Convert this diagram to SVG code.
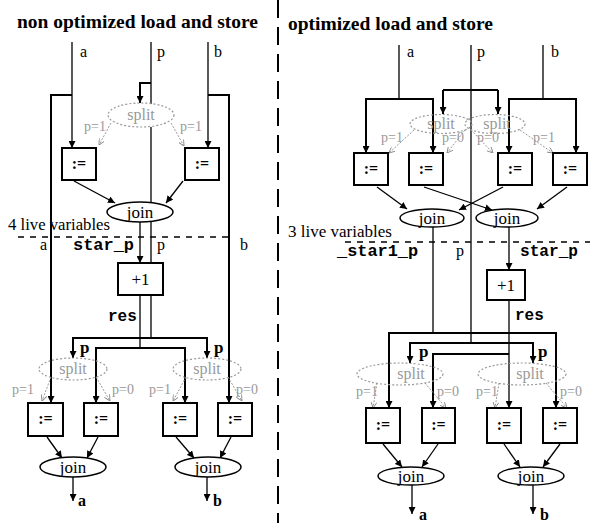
<svg xmlns="http://www.w3.org/2000/svg" width="591" height="523" viewBox="0 0 591 523">
<defs>
<marker id="ar" viewBox="0 0 10 10" refX="10" refY="5" markerWidth="7" markerHeight="7" markerUnits="userSpaceOnUse" orient="auto"><path d="M0,0 L10,5 L0,10 z" fill="#000"/></marker>
<marker id="ga" viewBox="0 0 10 10" refX="10" refY="5" markerWidth="6" markerHeight="6" markerUnits="userSpaceOnUse" orient="auto"><path d="M0,0 L10,5 L0,10" fill="none" stroke="#888" stroke-width="1.5"/></marker>
</defs>
<style>
.ln{fill:none;stroke:#000;stroke-width:1.3}
.bus{fill:none;stroke:#000;stroke-width:2}
.gl{fill:none;stroke:#999;stroke-width:1;stroke-dasharray:2 1.5}
.box{fill:#fff;stroke:#000;stroke-width:2}
.join{fill:#fff;stroke:#000;stroke-width:1.5}
.split{fill:none;stroke:#999;stroke-width:1.2;stroke-dasharray:2 2}
.div{fill:none;stroke:#000;stroke-width:2;stroke-dasharray:18 9}
.dash{fill:none;stroke:#000;stroke-width:1.5;stroke-dasharray:6 6}
text{font-family:"Liberation Serif","Times New Roman",serif;fill:#000}
.title{font-size:19.5px;font-weight:bold}
.lbl{font-size:16px}
.mono{font-family:"Liberation Mono","Courier New",monospace;font-size:16px;font-weight:bold}
.op{font-size:16px;font-weight:bold;text-anchor:middle}
.jt{font-size:17px;text-anchor:middle}
.st{font-size:16px;fill:#999;text-anchor:middle}
.pl{font-size:14px;fill:#999}
.bp{font-size:17px;font-weight:bold}
.out{font-size:16px;font-weight:bold}
</style>

<g id="titles">
<text class="title" x="17" y="28" textLength="241" lengthAdjust="spacingAndGlyphs">non optimized load and store</text>
<text class="title" x="288" y="30" textLength="205" lengthAdjust="spacingAndGlyphs">optimized load and store</text>
<line class="div" x1="278" y1="0" x2="278" y2="523"/>
</g>

<g id="connectors">
<!-- left panel -->
<path class="ln" d="M72,42 V148" marker-end="url(#ar)"/>
<path class="bus" d="M72,95 H51 V403" marker-end="url(#ar)"/>
<path class="ln" d="M208,42 V148" marker-end="url(#ar)"/>
<path class="bus" d="M208,95 H229 V403" marker-end="url(#ar)"/>
<path class="ln" d="M151,42 V104"/>
<path class="bus" d="M151,83 H140 V103" marker-end="url(#ar)"/>
<path class="ln" d="M151,127 V263"/>
<path class="ln" d="M74,181 L115,203" marker-end="url(#ar)"/>
<path class="ln" d="M183,181 L166,203" marker-end="url(#ar)"/>
<path class="ln" d="M140,222 V263" marker-end="url(#ar)"/>
<path class="ln" d="M140,295 V348"/>
<path class="bus" d="M140,348 H96 V403" marker-end="url(#ar)"/>
<path class="bus" d="M140,348 H185 V403" marker-end="url(#ar)"/>
<path class="ln" d="M151,295 V338"/>
<path class="bus" d="M151,338 H73 V358" marker-end="url(#ar)"/>
<path class="bus" d="M151,338 H207 V358" marker-end="url(#ar)"/>
<path class="ln" d="M47,437 L62,458" marker-end="url(#ar)"/>
<path class="ln" d="M98,437 L87,458" marker-end="url(#ar)"/>
<path class="ln" d="M176,437 L194,458" marker-end="url(#ar)"/>
<path class="ln" d="M231,437 L220,458" marker-end="url(#ar)"/>
<path class="ln" d="M73,477 V501" marker-end="url(#ar)"/>
<path class="ln" d="M207,477 V501" marker-end="url(#ar)"/>
<line class="dash" x1="18" y1="237" x2="232" y2="237"/>
<!-- left gray split edges -->
<path class="gl" d="M111,123 L99,145" marker-end="url(#ga)"/>
<path class="gl" d="M171,123 L184,146" marker-end="url(#ga)"/>
<path class="gl" d="M51,377 L42,401" marker-end="url(#ga)"/>
<path class="gl" d="M96,377 L110,401" marker-end="url(#ga)"/>
<path class="gl" d="M186,377 L173,401" marker-end="url(#ga)"/>
<path class="gl" d="M228,377 L242,401" marker-end="url(#ga)"/>

<!-- right panel -->
<path class="ln" d="M399,45 V99"/>
<path class="bus" d="M399,99 H366 V153" marker-end="url(#ar)"/>
<path class="bus" d="M399,99 H433 V153" marker-end="url(#ar)"/>
<path class="ln" d="M543,45 V99" stroke="#777"/>
<path class="bus" d="M543,99 H509 V153" marker-end="url(#ar)"/>
<path class="bus" d="M543,99 H576 V153" marker-end="url(#ar)"/>
<path class="ln" d="M471,45 V343"/>
<path class="bus" d="M443,90 H498"/>
<path class="bus" d="M443,90 V114" marker-end="url(#ar)"/>
<path class="bus" d="M498,90 V114" marker-end="url(#ar)"/>
<path class="ln" d="M377,187 L407,209" marker-end="url(#ar)"/>
<path class="ln" d="M424,187 L492,210" marker-end="url(#ar)"/>
<path class="ln" d="M503,187 L459,210" marker-end="url(#ar)"/>
<path class="ln" d="M567,187 L537,209" marker-end="url(#ar)"/>
<path class="ln" d="M433,227 V333"/>
<path class="ln" d="M509,227 V270" marker-end="url(#ar)"/>
<path class="bus" d="M433,333 H389 V408" marker-end="url(#ar)"/>
<path class="bus" d="M433,333 H556 V408" marker-end="url(#ar)"/>
<path class="bus" d="M471,343 H410 V363" marker-end="url(#ar)"/>
<path class="bus" d="M471,343 H533 V363" marker-end="url(#ar)"/>
<path class="ln" d="M509,300 V408" marker-end="url(#ar)"/>
<path class="bus" d="M509,354 H433 V408" marker-end="url(#ar)"/>
<path class="ln" d="M383,444 L402,467" marker-end="url(#ar)"/>
<path class="ln" d="M438,444 L422,467" marker-end="url(#ar)"/>
<path class="ln" d="M504,444 L520,467" marker-end="url(#ar)"/>
<path class="ln" d="M560,444 L543,467" marker-end="url(#ar)"/>
<path class="ln" d="M412,485 V514" marker-end="url(#ar)"/>
<path class="ln" d="M533,485 V514" marker-end="url(#ar)"/>
<line class="dash" x1="345" y1="242" x2="590" y2="242"/>
<!-- right gray split edges -->
<path class="gl" d="M414,130 L389,153" marker-end="url(#ga)"/>
<path class="gl" d="M465,130 L447,153" marker-end="url(#ga)"/>
<path class="gl" d="M471,130 L493,153" marker-end="url(#ga)"/>
<path class="gl" d="M520,130 L553,153" marker-end="url(#ga)"/>
<path class="gl" d="M377,383 L373,408" marker-end="url(#ga)"/>
<path class="gl" d="M425,383 L446,408" marker-end="url(#ga)"/>
<path class="gl" d="M499,383 L495,408" marker-end="url(#ga)"/>
<path class="gl" d="M546,383 L567,408" marker-end="url(#ga)"/>
</g>

<g id="labels">
<text class="lbl" x="80" y="57">a</text>
<text class="lbl" x="157" y="57">p</text>
<text class="lbl" x="214" y="57">b</text>
<text class="lbl" x="8" y="230" style="font-size:16.5px" textLength="102" lengthAdjust="spacingAndGlyphs">4 live variables</text>
<text class="lbl" x="40" y="250">a</text>
<text class="mono" x="73" y="250" textLength="61" lengthAdjust="spacingAndGlyphs">star_p</text>
<text class="lbl" x="157" y="250">p</text>
<text class="lbl" x="240" y="250">b</text>
<text class="mono" x="108" y="321">res</text>
<text class="bp" x="80" y="353">p</text>
<text class="bp" x="214" y="353">p</text>
<text class="pl" x="84" y="131">p=1</text>
<text class="pl" x="180" y="131">p=1</text>
<text class="pl" x="12" y="394">p=1</text>
<text class="pl" x="112" y="394">p=0</text>
<text class="pl" x="149" y="394">p=1</text>
<text class="pl" x="236" y="394">p=0</text>
<text class="out" x="78" y="506">a</text>
<text class="out" x="213" y="506">b</text>

<text class="lbl" x="407" y="57">a</text>
<text class="lbl" x="477" y="57">p</text>
<text class="lbl" x="551" y="57">b</text>
<text class="lbl" x="288" y="237" style="font-size:16.5px" textLength="104" lengthAdjust="spacingAndGlyphs">3 live variables</text>
<text class="mono" x="337" y="256" textLength="81" lengthAdjust="spacingAndGlyphs">_star1_p</text>
<text class="lbl" x="456" y="256">p</text>
<text class="mono" x="520" y="256" textLength="58" lengthAdjust="spacingAndGlyphs">star_p</text>
<text class="mono" x="515" y="320">res</text>
<text class="bp" x="419" y="357">p</text>
<text class="bp" x="538" y="357">p</text>
<text class="pl" x="381" y="142">p=1</text>
<text class="pl" x="442" y="142">p=0</text>
<text class="pl" x="477" y="142">p=0</text>
<text class="pl" x="533" y="142">p=1</text>
<text class="pl" x="356" y="396">p=1</text>
<text class="pl" x="437" y="396">p=0</text>
<text class="pl" x="476" y="396">p=1</text>
<text class="pl" x="560" y="396">p=0</text>
<text class="out" x="419" y="520">a</text>
<text class="out" x="540" y="520">b</text>
</g>

<!-- left nodes -->
<g id="L_split"><ellipse class="split" cx="141" cy="115" rx="33" ry="12"/><text class="st" x="141" y="120">split</text></g>
<g id="L_st1"><rect class="box" x="62" y="148" width="34" height="32"/><text class="op" x="79" y="169">:=</text></g>
<g id="L_st2"><rect class="box" x="185" y="148" width="34" height="32"/><text class="op" x="202" y="169">:=</text></g>
<g id="L_join"><ellipse class="join" cx="140" cy="212" rx="33" ry="10"/><text class="jt" x="140" y="218">join</text></g>
<g id="L_inc"><rect class="box" x="118" y="263" width="45" height="32"/><text class="jt" x="140.5" y="285">+1</text></g>
<g id="L_split1"><ellipse class="split" cx="73" cy="369" rx="34" ry="11"/><text class="st" x="73" y="374">split</text></g>
<g id="L_split2"><ellipse class="split" cx="207" cy="369" rx="34" ry="11"/><text class="st" x="207" y="374">split</text></g>
<g id="L_st3"><rect class="box" x="28" y="403" width="35" height="33"/><text class="op" x="45.5" y="424">:=</text></g>
<g id="L_st4"><rect class="box" x="84" y="403" width="34" height="33"/><text class="op" x="101" y="424">:=</text></g>
<g id="L_st5"><rect class="box" x="163" y="403" width="34" height="33"/><text class="op" x="180" y="424">:=</text></g>
<g id="L_st6"><rect class="box" x="218" y="403" width="34" height="33"/><text class="op" x="235" y="424">:=</text></g>
<g id="L_join1"><ellipse class="join" cx="73" cy="467" rx="33" ry="10"/><text class="jt" x="73" y="473">join</text></g>
<g id="L_join2"><ellipse class="join" cx="208" cy="467" rx="33" ry="10"/><text class="jt" x="208" y="473">join</text></g>

<!-- right nodes -->
<g id="R_split1"><ellipse class="split" cx="441" cy="124" rx="31" ry="9.5"/><text class="st" x="441" y="129">split</text></g>
<g id="R_split2"><ellipse class="split" cx="495" cy="124" rx="30" ry="9.5"/><text class="st" x="497" y="129">split</text></g>
<g id="R_st1"><rect class="box" x="354" y="153" width="34" height="32"/><text class="op" x="371" y="174">:=</text></g>
<g id="R_st2"><rect class="box" x="409" y="153" width="34" height="32"/><text class="op" x="426" y="174">:=</text></g>
<g id="R_st3"><rect class="box" x="498" y="153" width="34" height="32"/><text class="op" x="515" y="174">:=</text></g>
<g id="R_st4"><rect class="box" x="553" y="153" width="34" height="32"/><text class="op" x="570" y="174">:=</text></g>
<g id="R_join1"><ellipse class="join" cx="432" cy="218" rx="32" ry="9"/><text class="jt" x="432" y="224">join</text></g>
<g id="R_join2"><ellipse class="join" cx="507" cy="218" rx="31" ry="9"/><text class="jt" x="507" y="224">join</text></g>
<g id="R_inc"><rect class="box" x="487" y="270" width="38" height="30"/><text class="jt" x="506" y="291">+1</text></g>
<g id="R_split3"><ellipse class="split" cx="400" cy="374" rx="43" ry="11"/><text class="st" x="411" y="379">split</text></g>
<g id="R_split4"><ellipse class="split" cx="522" cy="374" rx="44" ry="11"/><text class="st" x="530" y="379">split</text></g>
<g id="R_st5"><rect class="box" x="366" y="408" width="34" height="35"/><text class="op" x="383" y="430">:=</text></g>
<g id="R_st6"><rect class="box" x="422" y="408" width="33" height="35"/><text class="op" x="438.5" y="430">:=</text></g>
<g id="R_st7"><rect class="box" x="487" y="408" width="34" height="35"/><text class="op" x="504" y="430">:=</text></g>
<g id="R_st8"><rect class="box" x="543" y="408" width="34" height="35"/><text class="op" x="560" y="430">:=</text></g>
<g id="R_join3"><ellipse class="join" cx="411" cy="476" rx="33" ry="9"/><text class="jt" x="411" y="482">join</text></g>
<g id="R_join4"><ellipse class="join" cx="531" cy="476" rx="33" ry="9"/><text class="jt" x="531" y="482">join</text></g>
</svg>
